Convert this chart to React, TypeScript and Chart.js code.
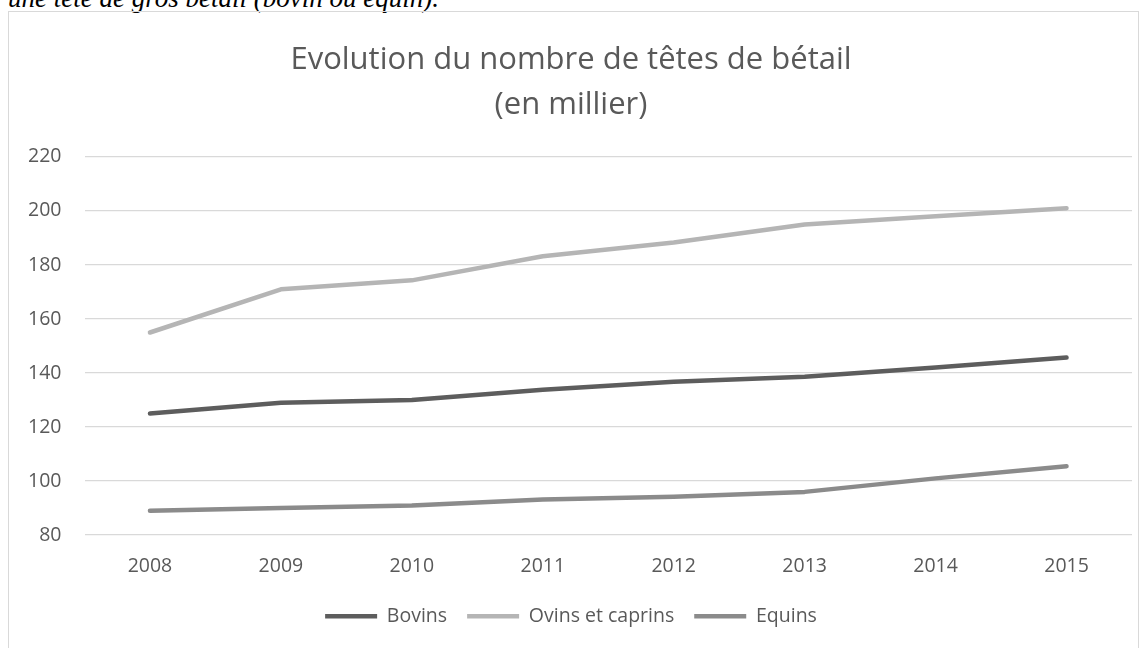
import React, { useEffect, useRef } from "react";
import { Chart, registerables } from "chart.js";

Chart.register(...registerables);

const years = ["2008", "2009", "2010", "2011", "2012", "2013", "2014", "2015"];
const bovins = [125, 129, 130, 133.8, 136.8, 138.6, 142, 145.7];
const ovinsCaprins = [155, 171, 174.3, 183.2, 188.3, 195, 198, 201];
const equins = [89, 90, 91, 93.2, 94.2, 96, 101, 105.5];
const titleLines = ["Evolution du nombre de têtes de bétail", "(en millier)"];
const caption = "une tête de gros bétail (bovin ou équin).";

const FONT = "'Open Sans', sans-serif";
const TEXT = "#595959";

export default function App() {
  const canvasRef = useRef<HTMLCanvasElement | null>(null);

  useEffect(() => {
    document.body.style.margin = "0";
    const ctx = canvasRef.current;
    if (!ctx) return;
    const chart = new Chart(ctx, {
      type: "line",
      data: {
        labels: years,
        datasets: [
          { label: "Bovins", data: bovins, borderColor: "#5d5d5d", backgroundColor: "#5d5d5d" },
          { label: "Ovins et caprins", data: ovinsCaprins, borderColor: "#b5b5b5", backgroundColor: "#b5b5b5" },
          { label: "Equins", data: equins, borderColor: "#8b8b8b", backgroundColor: "#8b8b8b" },
        ].map((d) => ({
          ...d,
          borderWidth: 4.5,
          pointRadius: 0,
          pointHoverRadius: 0,
          tension: 0,
          borderCapStyle: "round" as const,
          borderJoinStyle: "round" as const,
          pointStyle: "line" as const,
        })),
      },
      options: {
        animation: false,
        responsive: false,
        maintainAspectRatio: false,
        layout: { padding: { left: 0, right: 6, top: 0, bottom: 14 } },
        plugins: {
          title: {
            display: true,
            text: titleLines,
            color: TEXT,
            font: { family: FONT, size: 31, weight: "normal", lineHeight: 1.45 },
            padding: { top: 26, bottom: 29 },
          },
          legend: {
            position: "bottom",
            labels: {
              usePointStyle: true,
              pointStyleWidth: 52,
              color: TEXT,
              font: { family: FONT, size: 19.5 },
              padding: 20,
            },
          },
          tooltip: { enabled: false },
        },
        scales: {
          x: {
            offset: true,
            grid: { display: false, drawTicks: false },
            border: { display: false },
            ticks: { color: TEXT, font: { family: FONT, size: 19.5 }, padding: 20 },
            afterFit: (scale: any) => {
              scale.height = scale.height - 12;
            },
          },
          y: {
            min: 80,
            max: 220,
            grid: { color: "#d9d9d9", lineWidth: 1.3, drawTicks: false },
            border: { display: false },
            ticks: { stepSize: 20, color: TEXT, font: { family: FONT, size: 19.5 }, padding: 23 },
            afterFit: (scale: any) => {
              scale.width = 74.5;
            },
          },
        },
      },
    });
    return () => chart.destroy();
  }, []);

  return (
    <div style={{ position: "relative", width: 1148, height: 648, overflow: "hidden", background: "#fff" }}>
      <div
        style={{
          position: "absolute",
          left: 8,
          top: -17,
          fontFamily: "'Liberation Serif', serif",
          fontStyle: "italic",
          fontSize: 27,
          lineHeight: "31px",
          color: "#000",
          whiteSpace: "nowrap",
        }}
      >
        {caption}
      </div>
      <div
        style={{
          position: "absolute",
          left: 8,
          top: 11,
          width: 1131,
          height: 660,
          border: "1.5px solid #d9d9d9",
          boxSizing: "border-box",
        }}
      >
        <canvas ref={canvasRef} width={1128} height={638} style={{ display: "block", marginLeft: 1 }} />
      </div>
    </div>
  );
}
